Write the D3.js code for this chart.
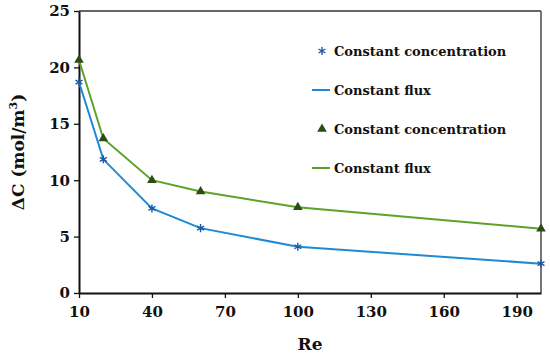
<!DOCTYPE html>
<html>
<head>
<meta charset="utf-8">
<script src="https://cdn.jsdelivr.net/npm/d3@7/dist/d3.min.js"></script>
<style>
  body { margin: 0; background: #fff; }
  svg text { font-family: 'DejaVu Serif', serif; font-weight: bold; fill: #111; }
</style>
</head>
<body>
<div id="chart"></div>
<script>
// Re values along the x axis
const reValues = [10, 20, 40, 60, 100, 200];
// blue series (asterisk markers + line)
const seriesA = [18.7, 11.85, 7.5, 5.75, 4.1, 2.6];
// green series (triangle markers + line)
const seriesB = [20.65, 13.7, 10.0, 9.0, 7.6, 5.7];
const xTicks = [10, 40, 70, 100, 130, 160, 190];
const yTicks = [0, 5, 10, 15, 20, 25];
const legendLabels = ['Constant concentration', 'Constant flux', 'Constant concentration', 'Constant flux'];

const width = 550;
const height = 358;
const margin = { top: 11, right: 9, bottom: 65, left: 79 };

const x = d3.scaleLinear()
  .domain([10, 200])
  .range([margin.left, width - margin.right]);

const y = d3.scaleLinear()
  .domain([0, 25])
  .range([height - margin.bottom, margin.top]);

const svg = d3.select('#chart').append('svg')
  .attr('width', width)
  .attr('height', height)
  .attr('viewBox', [0, 0, width, height]);

/* FRAME */

svg.append('line')
  .attr('x1', x(10)).attr('x2', x(200))
  .attr('y1', y(25)).attr('y2', y(25))
  .attr('stroke', '#333').attr('stroke-width', 1.3);

svg.append('line')
  .attr('x1', x(200)).attr('x2', x(200))
  .attr('y1', y(25)).attr('y2', y(0))
  .attr('stroke', '#555').attr('stroke-width', 1.6);

/* AXES */

svg.append('g')
  .attr('transform', `translate(0, ${y(0)})`)
  .call(d3.axisBottom(x).tickValues(xTicks).tickSize(5).tickPadding(8).tickSizeOuter(0))
  .call((g) => g.select('.domain').attr('stroke', '#111').attr('stroke-width', 2))
  .call((g) => g.selectAll('.tick line').attr('stroke', '#111').attr('stroke-width', 1.3))
  .call((g) => g.selectAll('.tick text').attr('font-size', 15).attr('font-family', null));

svg.append('g')
  .attr('transform', `translate(${margin.left}, 0)`)
  .call(d3.axisLeft(y).tickValues(yTicks).tickSize(5).tickPadding(4).tickSizeOuter(0))
  .call((g) => g.select('.domain').attr('stroke', '#111').attr('stroke-width', 2))
  .call((g) => g.selectAll('.tick line').attr('stroke', '#111').attr('stroke-width', 1.3))
  .call((g) => g.selectAll('.tick text').attr('font-size', 15).attr('font-family', null));

svg.append('text')
  .attr('x', (x(10) + x(200)) / 2)
  .attr('y', 350)
  .attr('text-anchor', 'middle')
  .attr('font-size', 17)
  .text('Re');

const yLabel = svg.append('text')
  .attr('transform', `translate(24, ${(y(0) + y(25)) / 2}) rotate(-90)`)
  .attr('text-anchor', 'middle')
  .attr('font-size', 17);

yLabel.append('tspan').text('ΔC (mol/m');
yLabel.append('tspan').attr('font-size', 11).attr('dy', -7).text('3');
yLabel.append('tspan').attr('dy', 7).text(')');

/* LINES */

const lineA = d3.line().x((d, i) => x(reValues[i])).y((d) => y(d));

svg.append('path')
  .datum(seriesB)
  .attr('fill', 'none')
  .attr('stroke', '#5ea22b')
  .attr('stroke-width', 2)
  .attr('d', lineA);

svg.append('path')
  .datum(seriesA)
  .attr('fill', 'none')
  .attr('stroke', '#1c8ad6')
  .attr('stroke-width', 2)
  .attr('d', lineA);

/* MARKERS */

const star = d3.symbol().type(d3.symbolAsterisk).size(45);
const tri = d3.symbol().type(d3.symbolTriangle).size(40);

svg.append('g')
  .selectAll('path')
  .data(seriesB)
  .join('path')
  .attr('transform', (d, i) => `translate(${x(reValues[i])}, ${y(d)})`)
  .attr('d', tri)
  .attr('fill', '#2e4b12');

svg.append('g')
  .selectAll('path')
  .data(seriesA)
  .join('path')
  .attr('transform', (d, i) => `translate(${x(reValues[i])}, ${y(d)})`)
  .attr('d', star)
  .attr('fill', 'none')
  .attr('stroke', '#1f56a3')
  .attr('stroke-width', 1.4);

/* LEGEND */

const legendY = [51, 90, 129, 168];
const legend = svg.append('g');

legend.selectAll('text')
  .data(legendLabels)
  .join('text')
  .attr('x', 334)
  .attr('y', (d, i) => legendY[i] + 4.5)
  .attr('font-size', 13)
  .text((d) => d);

legend.append('path')
  .attr('transform', `translate(322, ${legendY[0]})`)
  .attr('d', star)
  .attr('fill', 'none')
  .attr('stroke', '#1f56a3')
  .attr('stroke-width', 1.4);

legend.append('line')
  .attr('x1', 312).attr('x2', 330)
  .attr('y1', legendY[1]).attr('y2', legendY[1])
  .attr('stroke', '#1c8ad6').attr('stroke-width', 2);

legend.append('path')
  .attr('transform', `translate(322, ${legendY[2]})`)
  .attr('d', tri)
  .attr('fill', '#2e4b12');

legend.append('line')
  .attr('x1', 312).attr('x2', 330)
  .attr('y1', legendY[3]).attr('y2', legendY[3])
  .attr('stroke', '#5ea22b').attr('stroke-width', 2);
</script>
</body>
</html>
